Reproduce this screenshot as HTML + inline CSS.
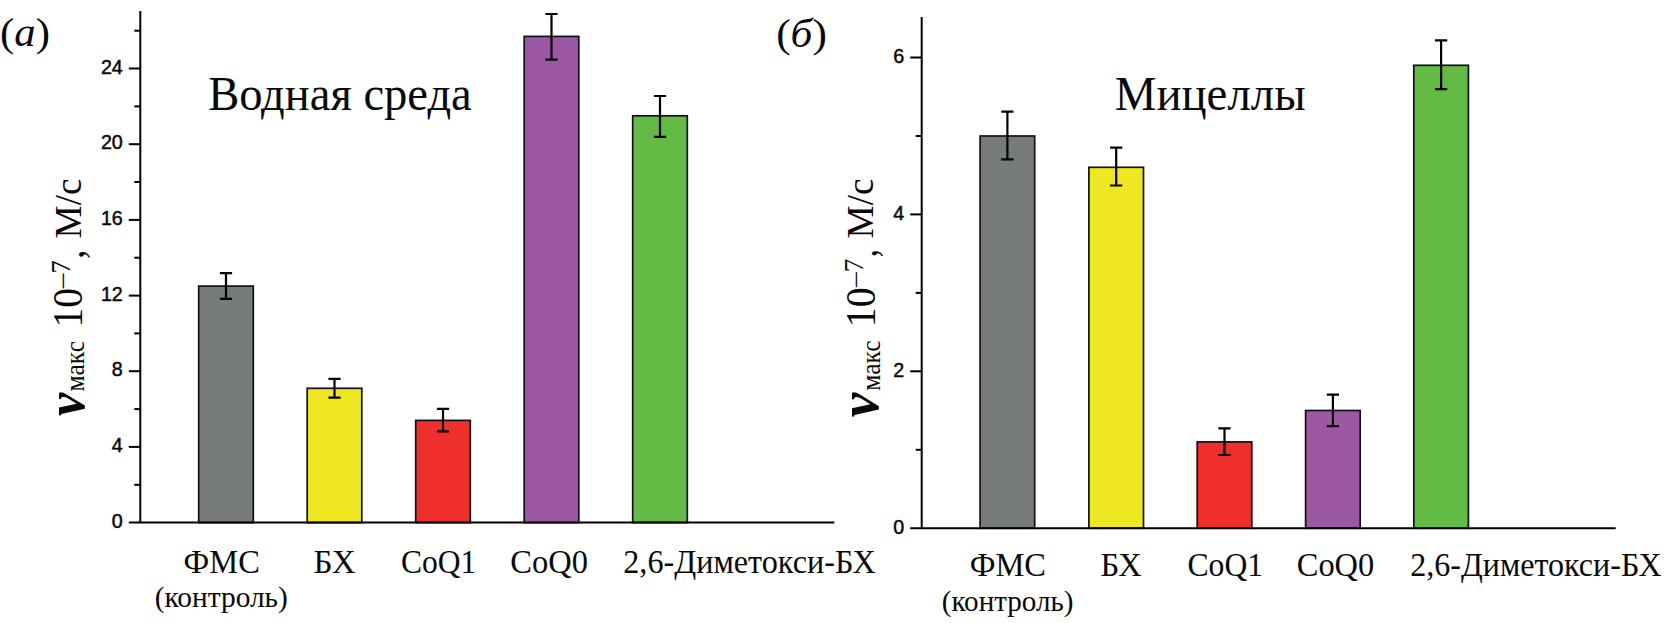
<!DOCTYPE html>
<html lang="ru">
<head>
<meta charset="utf-8">
<title>Vмакс</title>
<style>
html,body{margin:0;padding:0;background:#fff;}
body{width:1670px;height:623px;overflow:hidden;}
svg{display:block;}
text{fill:#0a0a0a;}
.tk{font-family:"Liberation Sans",sans-serif;stroke:#0a0a0a;stroke-width:.5px;}
.s{font-family:"Liberation Serif",serif;}
</style>
</head>
<body>
<svg width="1670" height="623" viewBox="0 0 1670 623">
<rect width="1670" height="623" fill="#fff"/>
<g>
<rect x="198.7" y="286.1" width="54.6" height="236.5" fill="#777b7b" stroke="#10101a" stroke-width="1.7"/>
<path d="M226.0 273.1V298.8M219.9 273.1h12.2M219.9 298.8h12.2" stroke="#000" stroke-width="2.2" fill="none"/>
<rect x="307.2" y="388.3" width="54.6" height="134.3" fill="#efe722" stroke="#10101a" stroke-width="1.7"/>
<path d="M334.5 378.9V397.7M328.4 378.9h12.2M328.4 397.7h12.2" stroke="#000" stroke-width="2.2" fill="none"/>
<rect x="415.7" y="420.4" width="54.6" height="102.2" fill="#ee2f2c" stroke="#10101a" stroke-width="1.7"/>
<path d="M443.0 408.8V431.4M436.9 408.8h12.2M436.9 431.4h12.2" stroke="#000" stroke-width="2.2" fill="none"/>
<rect x="524.2" y="36.4" width="54.6" height="486.2" fill="#9d58a3" stroke="#10101a" stroke-width="1.7"/>
<path d="M551.5 14.0V59.6M545.4 14.0h12.2M545.4 59.6h12.2" stroke="#000" stroke-width="2.2" fill="none"/>
<rect x="632.7" y="115.8" width="54.6" height="406.8" fill="#63bb45" stroke="#10101a" stroke-width="1.7"/>
<path d="M660.0 96.0V136.8M653.9 96.0h12.2M653.9 136.8h12.2" stroke="#000" stroke-width="2.2" fill="none"/>
<path d="M140.3 11V522.6M128.8 522.6H834.4" stroke="#000" stroke-width="2" fill="none"/>
<text x="122.8" y="527.6" text-anchor="end" class="tk" style="font-size:19.7px">0</text>
<path d="M128.8 446.9H140.3" stroke="#000" stroke-width="2"/>
<text x="122.8" y="451.9" text-anchor="end" class="tk" style="font-size:19.7px">4</text>
<path d="M128.8 371.2H140.3" stroke="#000" stroke-width="2"/>
<text x="122.8" y="376.2" text-anchor="end" class="tk" style="font-size:19.7px">8</text>
<path d="M128.8 295.6H140.3" stroke="#000" stroke-width="2"/>
<text x="122.8" y="300.6" text-anchor="end" class="tk" style="font-size:19.7px">12</text>
<path d="M128.8 219.9H140.3" stroke="#000" stroke-width="2"/>
<text x="122.8" y="224.9" text-anchor="end" class="tk" style="font-size:19.7px">16</text>
<path d="M128.8 144.2H140.3" stroke="#000" stroke-width="2"/>
<text x="122.8" y="149.2" text-anchor="end" class="tk" style="font-size:19.7px">20</text>
<path d="M128.8 68.5H140.3" stroke="#000" stroke-width="2"/>
<text x="122.8" y="73.5" text-anchor="end" class="tk" style="font-size:19.7px">24</text>
<path d="M134.3 484.8H140.3" stroke="#000" stroke-width="2"/>
<path d="M134.3 409.1H140.3" stroke="#000" stroke-width="2"/>
<path d="M134.3 333.4H140.3" stroke="#000" stroke-width="2"/>
<path d="M134.3 257.7H140.3" stroke="#000" stroke-width="2"/>
<path d="M134.3 182.0H140.3" stroke="#000" stroke-width="2"/>
<path d="M134.3 106.4H140.3" stroke="#000" stroke-width="2"/>
<path d="M134.3 30.7H140.3" stroke="#000" stroke-width="2"/>
</g>
<g>
<rect x="980.1" y="136.0" width="54.6" height="392.2" fill="#777b7b" stroke="#10101a" stroke-width="1.7"/>
<path d="M1007.4 111.7V159.4M1001.3 111.7h12.2M1001.3 159.4h12.2" stroke="#000" stroke-width="2.2" fill="none"/>
<rect x="1088.9" y="167.3" width="54.6" height="360.9" fill="#efe722" stroke="#10101a" stroke-width="1.7"/>
<path d="M1116.2 147.6V185.5M1110.1 147.6h12.2M1110.1 185.5h12.2" stroke="#000" stroke-width="2.2" fill="none"/>
<rect x="1197.2" y="441.9" width="54.6" height="86.3" fill="#ee2f2c" stroke="#10101a" stroke-width="1.7"/>
<path d="M1224.5 428.3V455.0M1218.4 428.3h12.2M1218.4 455.0h12.2" stroke="#000" stroke-width="2.2" fill="none"/>
<rect x="1305.6" y="410.5" width="54.6" height="117.7" fill="#9d58a3" stroke="#10101a" stroke-width="1.7"/>
<path d="M1332.9 394.6V426.2M1326.8 394.6h12.2M1326.8 426.2h12.2" stroke="#000" stroke-width="2.2" fill="none"/>
<rect x="1413.8" y="65.3" width="54.6" height="462.9" fill="#63bb45" stroke="#10101a" stroke-width="1.7"/>
<path d="M1441.1 40.3V89.1M1435.0 40.3h12.2M1435.0 89.1h12.2" stroke="#000" stroke-width="2.2" fill="none"/>
<path d="M921.7 17V528.2M910.2 528.2H1615.7" stroke="#000" stroke-width="2" fill="none"/>
<text x="904.3" y="533.5" text-anchor="end" class="tk" style="font-size:19.7px">0</text>
<path d="M910.2 371.3H921.7" stroke="#000" stroke-width="2"/>
<text x="904.3" y="376.6" text-anchor="end" class="tk" style="font-size:19.7px">2</text>
<path d="M910.2 214.4H921.7" stroke="#000" stroke-width="2"/>
<text x="904.3" y="219.7" text-anchor="end" class="tk" style="font-size:19.7px">4</text>
<path d="M910.2 57.5H921.7" stroke="#000" stroke-width="2"/>
<text x="904.3" y="62.8" text-anchor="end" class="tk" style="font-size:19.7px">6</text>
<path d="M915.7 449.8H921.7" stroke="#000" stroke-width="2"/>
<path d="M915.7 292.9H921.7" stroke="#000" stroke-width="2"/>
<path d="M915.7 136.0H921.7" stroke="#000" stroke-width="2"/>
</g>
<g>
<text class="s" transform="translate(183.59 572.80) scale(0.9733 1)" style="font-size:33.4px">ФМС</text>
<text class="s" transform="translate(154.73 606.90) scale(1.0175 1)" style="font-size:28.9px">(контроль)</text>
<text class="s" transform="translate(313.51 572.80) scale(0.9939 1)" style="font-size:33.4px">БХ</text>
<text class="s" transform="translate(400.93 572.80) scale(0.9445 1)" style="font-size:33.4px">CoQ1</text>
<text class="s" transform="translate(510.34 572.80) scale(0.9740 1)" style="font-size:33.4px">CoQ0</text>
<text class="s" transform="translate(623.26 572.80) scale(0.9644 1)" style="font-size:33.4px">2,6-Диметокси-БХ</text>
<text class="s" transform="translate(969.78 575.50) scale(0.9734 1)" style="font-size:33.4px">ФМС</text>
<text class="s" transform="translate(941.72 610.90) scale(1.0217 1)" style="font-size:28.5px">(контроль)</text>
<text class="s" transform="translate(1100.42 575.50) scale(0.9757 1)" style="font-size:33.4px">БХ</text>
<text class="s" transform="translate(1187.52 575.50) scale(0.9477 1)" style="font-size:33.4px">CoQ1</text>
<text class="s" transform="translate(1296.79 575.50) scale(0.9709 1)" style="font-size:33.4px">CoQ0</text>
<text class="s" transform="translate(1410.16 576.00) scale(0.9602 1)" style="font-size:33.4px">2,6-Диметокси-БХ</text>
<text class="s" transform="translate(208.13 109.80) scale(0.9743 1)" style="font-size:47.8px">Водная среда</text>
<text class="s" transform="translate(1114.77 110.00) scale(0.9809 1)" style="font-size:47.8px">Мицеллы</text>
<text class="s" transform="translate(0.09 46.40) scale(1.0965 1)" style="font-size:39px">(<tspan font-style="italic">a</tspan>)</text>
<text class="s" transform="translate(776.16 46.70) scale(1.1124 1)" style="font-size:39px">(<tspan font-style="italic">б</tspan>)</text>
<text class="s" transform="translate(83.70 415.95) rotate(-90) scale(0.9695 1)" style="font-size:54px;font-weight:bold;font-style:italic">v</text>
<text class="s" transform="translate(84.25 391.62) rotate(-90) scale(0.9162 1)" style="font-size:28px">макс</text>
<text class="s" transform="translate(81.75 327.56) rotate(-90) scale(0.9288 1)" style="font-size:42.5px">10</text>
<text class="s" transform="translate(72.30 289.85) rotate(-90) scale(1.2421 1)" style="font-size:26px">−</text>
<text class="s" transform="translate(69.90 273.42) rotate(-90) scale(0.9746 1)" style="font-size:27px">7</text>
<text class="s" transform="translate(82.80 258.77) rotate(-90) scale(0.8462 1)" style="font-size:42px">,</text>
<text class="s" transform="translate(81.05 238.45) rotate(-90) scale(0.9547 1)" style="font-size:39px">М/с</text>
<text class="s" transform="translate(877.60 417.30) rotate(-90) scale(0.9883 1)" style="font-size:56px;font-weight:bold;font-style:italic">v</text>
<text class="s" transform="translate(879.65 390.76) rotate(-90) scale(0.9135 1)" style="font-size:28px">макс</text>
<text class="s" transform="translate(874.65 327.24) rotate(-90) scale(0.9389 1)" style="font-size:42.5px">10</text>
<text class="s" transform="translate(864.50 288.46) rotate(-90) scale(1.2414 1)" style="font-size:26px">−</text>
<text class="s" transform="translate(863.00 272.27) rotate(-90) scale(1.0021 1)" style="font-size:27px">7</text>
<text class="s" transform="translate(875.50 257.37) rotate(-90) scale(0.7656 1)" style="font-size:42px">,</text>
<text class="s" transform="translate(872.50 238.45) rotate(-90) scale(0.9547 1)" style="font-size:39px">М/с</text>
</g>
</svg>
</body>
</html>
